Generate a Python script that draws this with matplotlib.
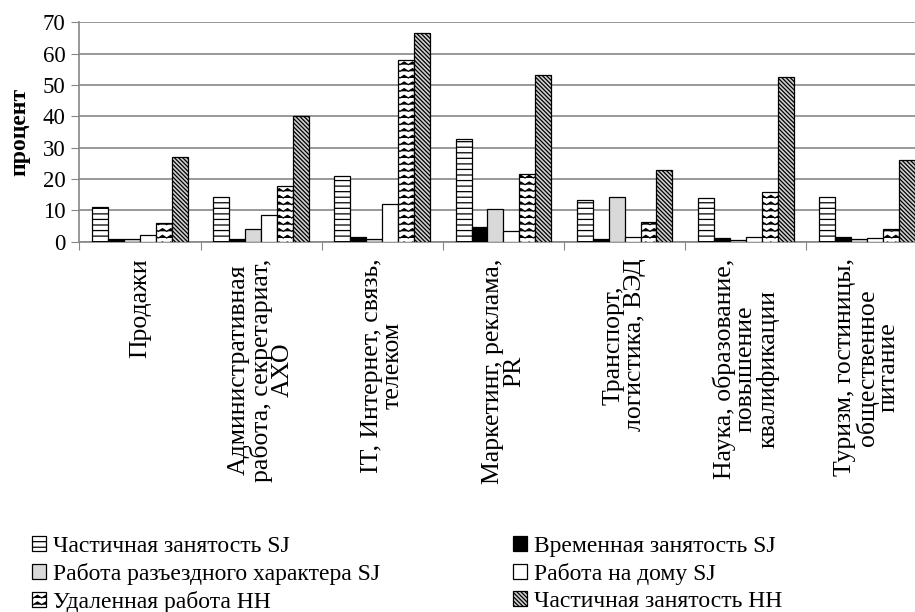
import warnings
import numpy as np
import matplotlib
matplotlib.use("Agg")
import matplotlib.pyplot as plt
from matplotlib import hatch as mhatch
from matplotlib.path import Path

warnings.filterwarnings("ignore")

categories = [
    "Продажи",
    "Административная\nработа, секретариат,\nАХО",
    "IT, Интернет, связь,\nтелеком",
    "Маркетинг, реклама,\nPR",
    "Транспорт,\nлогистика, ВЭД",
    "Наука, образование,\nповышение\nквалификации",
    "Туризм, гостиницы,\nобщественное\nпитание",
]

series_names = [
    "Частичная занятость SJ",
    "Временная занятость SJ",
    "Работа разъездного характера SJ",
    "Работа на дому SJ",
    "Удаленная работа HH",
    "Частичная занятость HH",
]

part_time_sj = [11.1, 14.3, 20.9, 32.8, 13.3, 13.8, 14.3]
temporary_sj = [1.0, 1.0, 1.4, 4.8, 1.0, 1.1, 1.5]
travel_sj = [1.0, 4.1, 1.0, 10.5, 14.3, 0.5, 0.8]
home_sj = [2.1, 8.5, 11.9, 3.3, 1.5, 1.5, 1.1]
remote_hh = [5.9, 17.7, 58.0, 21.6, 6.3, 16.0, 4.0]
part_time_hh = [26.9, 40.2, 66.7, 53.1, 22.8, 52.4, 26.2]

yticks = [0, 10, 20, 30, 40, 50, 60, 70]


# zigzag fill used for the "remote work" bars
class ZigZagHatch(mhatch.HatchPatternBase):
    def __init__(self, hatch, density):
        self.num_rows = hatch.count("z") * 15
        self.num_teeth = 12
        self.num_vertices = self.num_rows * (2 * self.num_teeth + 1)

    def set_vertices_and_codes(self, vertices, codes):
        n = 2 * self.num_teeth + 1
        xs = np.linspace(0.0, 1.0, n)
        amp = 0.4 / max(self.num_rows, 1)
        offs = np.where(np.arange(n) % 2 == 0, 0.0, amp)
        for r in range(self.num_rows):
            y0 = (r + 0.3) / self.num_rows
            vertices[r * n:(r + 1) * n, 0] = xs
            vertices[r * n:(r + 1) * n, 1] = y0 + offs
            codes[r * n:(r + 1) * n] = Path.LINETO
            codes[r * n] = Path.MOVETO


mhatch._hatch_types.append(ZigZagHatch)

plt.rcParams["font.family"] = ["Liberation Serif", "DejaVu Serif"]
plt.rcParams["hatch.linewidth"] = 0.9

values = [part_time_sj, temporary_sj, travel_sj, home_sj, remote_hh, part_time_hh]
styles = [
    dict(color="white", hatch="---"),
    dict(color="black", hatch=None),
    dict(color="#d9d9d9", hatch=None),
    dict(color="white", hatch=None),
    dict(color="white", hatch="z"),
    dict(color="#d0d0d0", hatch="\\" * 8),
]

fig = plt.figure(figsize=(9.15, 6.12), dpi=100)
ax = fig.add_axes([0.0867, 0.605, 0.927, 0.3586])

x = np.arange(len(categories))
w = 0.1315
handles = []
for i, (vals, name, st) in enumerate(zip(values, series_names, styles)):
    b = ax.bar(x + (i - 2.5) * w, vals, w, label=name,
               facecolor=st["color"], edgecolor="black", linewidth=0.9,
               hatch=st["hatch"], zorder=3)
    handles.append(b)

ax.set_xlim(-0.5, len(categories) - 0.5)
ax.set_ylim(0, 70)
ax.set_yticks(yticks)
ax.tick_params(axis="y", labelsize=16.5, length=6, color="#868686", pad=4)
ax.yaxis.grid(True, color="#868686", linewidth=1.2, zorder=0)
ax.set_axisbelow(True)

ax.set_xticks(np.arange(len(categories) + 1) - 0.5)
ax.set_xticklabels([])
ax.tick_params(axis="x", which="major", length=6, color="#868686")
ax.set_xticks(x, categories, minor=True)
ax.tick_params(axis="x", which="minor", length=0, pad=12, labelsize=18.5,
               labelrotation=90)
for lbl in ax.get_xticklabels(minor=True):
    lbl.set_verticalalignment("top")
    lbl.set_horizontalalignment("center")
    lbl.set_multialignment("center")
    lbl.set_linespacing(0.95)

for side in ["top", "right"]:
    ax.spines[side].set_visible(False)
for side in ["left", "bottom"]:
    ax.spines[side].set_color("#868686")
    ax.spines[side].set_linewidth(1.2)

ax.set_ylabel("процент", fontsize=17, fontweight="bold", labelpad=9)

order = [0, 2, 4, 1, 3, 5]
fig.legend([handles[k] for k in order], [series_names[k] for k in order],
           ncol=2, loc="upper left", bbox_to_anchor=(0.035, 0.124),
           frameon=False, fontsize=17, handlelength=0.6, handleheight=0.6,
           handletextpad=0.3, labelspacing=0.25, columnspacing=5.6,
           borderaxespad=0, borderpad=0)

fig.savefig("out.png", dpi=100)
